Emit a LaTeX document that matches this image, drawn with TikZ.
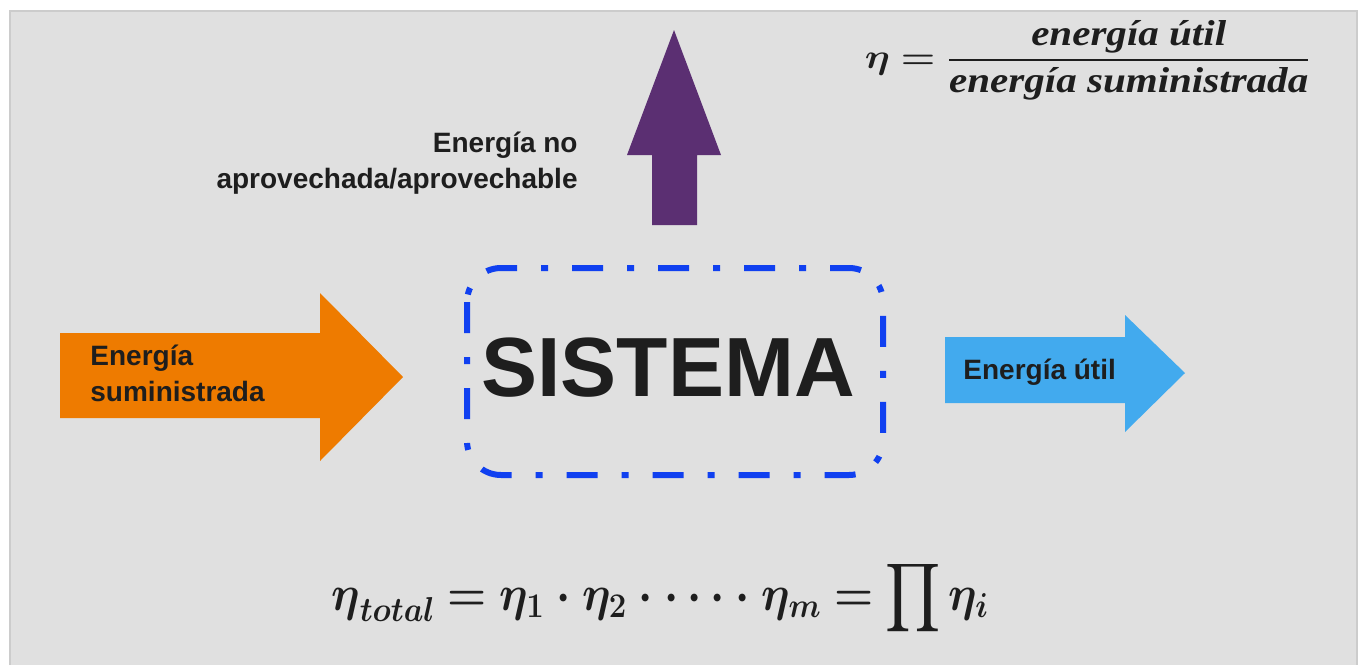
\documentclass[tikz,border=0pt]{standalone}
\usepackage{amsmath,amssymb}
\usepackage[no-math]{fontspec}
\setmainfont{Liberation Sans}
\newfontfamily\formfont{Liberation Serif}
\usepackage{xcolor}
\usetikzlibrary{positioning, calc}
\definecolor{panelgray}{RGB}{224,224,224}
\definecolor{panelline}{RGB}{204,204,204}
\definecolor{inorange}{RGB}{238,123,0}
\definecolor{outblue}{RGB}{66,170,238}
\definecolor{lostpurple}{RGB}{91,47,114}
\definecolor{sysblue}{RGB}{16,64,240}
\definecolor{inkdark}{RGB}{30,30,30}
\newcommand{\fword}[1]{\text{\formfont\bfseries\itshape #1}}

\begin{document}
\begin{tikzpicture}[
    x=0.5pt, y=-0.5pt,
    label/.style={font=\fontsize{14}{18}\selectfont\bfseries, text=inkdark, inner sep=0pt},
    flow/.style={draw=none},
    sysbox/.style={draw=sysblue, line width=3pt, rounded corners=17pt,
                   dash pattern=on 15.5pt off 12pt on 3.5pt off 12pt},
    formula/.style={inner sep=0pt, text=inkdark}
]
\useasboundingbox (0,0) rectangle (1362,665);
\fill[white] (0,0) rectangle (1362,665);
\filldraw[fill=panelgray, draw=panelline, line width=1pt] (9.5,665) -- (9.5,10.5) -- (1356.5,10.5) -- (1356.5,665);

% energy in
\fill[flow, inorange] (60,333) -- (320,333) -- (320,293) -- (403,377)
    -- (320,461) -- (320,418) -- (60,418) -- cycle;
\node[label, anchor=west, align=left] (inlabel) at (90,373) {Energía\\suministrada};

% useful energy out
\fill[flow, outblue] (945,337) -- (1125,337) -- (1125,315) -- (1185,373)
    -- (1125,432) -- (1125,403) -- (945,403) -- cycle;
\node[label, anchor=west] (outlabel) at (963,372) {Energía útil};

% losses
\fill[flow, lostpurple] (652,225) -- (652,155) -- (627,155) -- (674,30)
    -- (721,155) -- (697,155) -- (697,225) -- cycle;
\node[label, anchor=east, align=right] (lostlabel) at (578,163) {Energía no\\aprovechada/aprovechable};

% system
\draw[sysbox] (467,268) rectangle (883,475);
\node[font=\fontsize{42}{50}\selectfont\bfseries, text=inkdark, inner sep=0pt] (sys) at (668,368) {SISTEMA};

% efficiency
\node[formula, font=\fontsize{18}{22}\selectfont] (eff) at (1088,60)
    {\scalebox{1.14}[1]{$\boldsymbol{\eta} \mathrel{\boldsymbol{=}} \dfrac{\fword{energía útil}}{\fword{energía suministrada}}$}};
\node[formula, font=\fontsize{24}{28}\selectfont] (efftotal) at (660,598)
    {\scalebox{0.9}[1]{$\displaystyle \boldsymbol{\eta}_{\boldsymbol{total}} \mathrel{\boldsymbol{=}} \boldsymbol{\eta_1\cdot\eta_2\cdot\cdots\cdot\eta_m} \mathrel{\boldsymbol{=}} \prod\boldsymbol{\eta_i}$}};
\end{tikzpicture}
\end{document}
